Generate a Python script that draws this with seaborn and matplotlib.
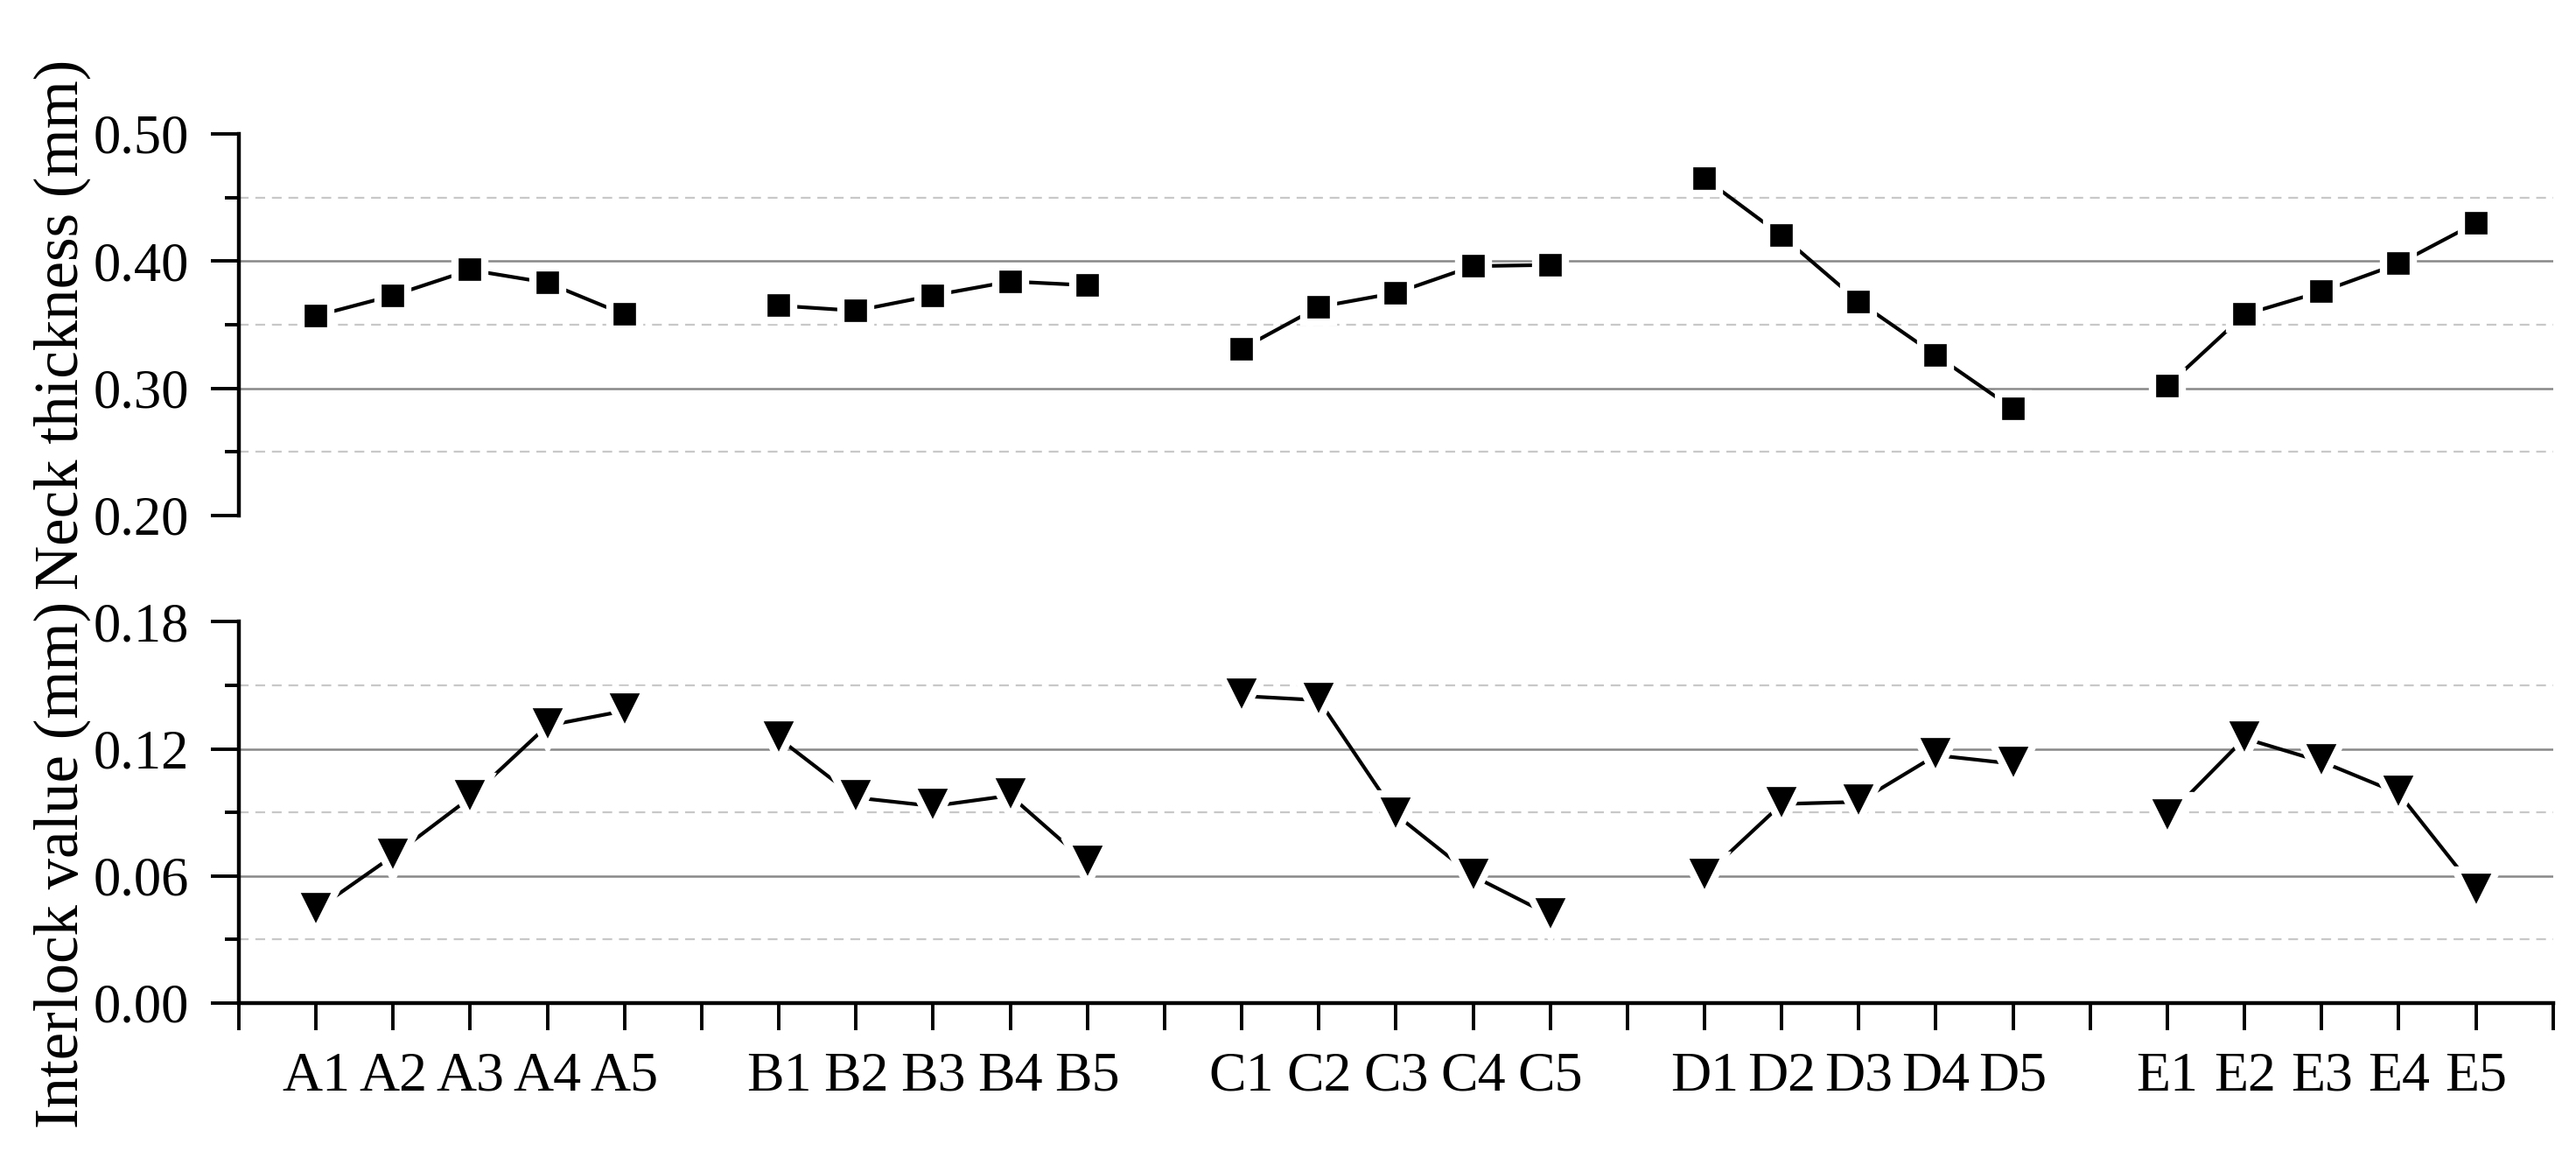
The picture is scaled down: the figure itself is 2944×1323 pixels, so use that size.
import numpy as np
import pandas as pd
import matplotlib
matplotlib.use('Agg')
import matplotlib.pyplot as plt
from matplotlib.ticker import FormatStrFormatter
import seaborn as sns

# donnees
groups = ['A', 'B', 'C', 'D', 'E']
samples = ['A1', 'A2', 'A3', 'A4', 'A5',
           'B1', 'B2', 'B3', 'B4', 'B5',
           'C1', 'C2', 'C3', 'C4', 'C5',
           'D1', 'D2', 'D3', 'D4', 'D5',
           'E1', 'E2', 'E3', 'E4', 'E5']
neck_thickness = [0.357, 0.373, 0.393, 0.383, 0.358,
                  0.365, 0.361, 0.373, 0.384, 0.381,
                  0.331, 0.364, 0.375, 0.396, 0.397,
                  0.465, 0.420, 0.368, 0.326, 0.284,
                  0.302, 0.358, 0.376, 0.398, 0.430]
interlock = [0.044, 0.0695, 0.097, 0.131, 0.138,
             0.125, 0.097, 0.093, 0.098, 0.066,
             0.145, 0.143, 0.089, 0.060, 0.0415,
             0.060, 0.094, 0.095, 0.117, 0.113,
             0.088, 0.125, 0.114, 0.099, 0.053]

neck_major = [0.20, 0.30, 0.40, 0.50]
neck_minor = [0.25, 0.35, 0.45]
inter_major = [0.00, 0.06, 0.12, 0.18]
inter_minor = [0.03, 0.09, 0.15]

# positions : 5 points par groupe + un espace entre les groupes
df = pd.DataFrame({'sample': samples, 'neck': neck_thickness, 'inter': interlock})
df['group'] = df['sample'].str[0]
df['pos'] = [groups.index(s[0]) * 6 + int(s[1]) for s in samples]

tick_pos = list(range(0, 31))
tick_lab = ['' for _ in tick_pos]
for p, s in zip(df['pos'], df['sample']):
    tick_lab[p] = s

sns.set_theme(style='ticks')
plt.rcParams['font.family'] = ['Liberation Serif', 'DejaVu Serif']
for k in ['text.color', 'axes.labelcolor', 'xtick.color', 'ytick.color', 'axes.edgecolor']:
    plt.rcParams[k] = 'black'

fig = plt.figure(figsize=(14.72, 6.615), dpi=200)
ax1 = fig.add_axes([0.0927, 0.5548, 0.8984, 0.3296])
ax2 = fig.add_axes([0.0927, 0.1338, 0.8984, 0.3292])

line_kw = dict(color='black', linewidth=1.5, markeredgecolor='white',
               markeredgewidth=3, estimator=None, legend=False)

sns.lineplot(data=df, x='pos', y='neck', units='group', marker='s',
             markersize=12.5, ax=ax1, zorder=3, **line_kw)
sns.lineplot(data=df, x='pos', y='inter', units='group', marker='v',
             markersize=17.5, ax=ax2, zorder=3, **line_kw)

for ax, major, minor, label, ly in [(ax1, neck_major, neck_minor, 'Neck thickness (mm)', 0.5),
                                     (ax2, inter_major, inter_minor, 'Interlock value (mm)', 0.363)]:
    ax.set_xlim(0, 30)
    ax.set_ylim(major[0], major[-1])
    ax.set_yticks(major)
    ax.set_yticks(minor, minor=True)
    ax.yaxis.set_major_formatter(FormatStrFormatter('%.2f'))
    for v in major[1:-1]:
        ax.axhline(v, color='#888888', lw=0.9, zorder=1)
    for v in minor:
        ax.axhline(v, color='#c8c8c8', lw=0.8, ls=(0, (5, 3.5)), zorder=1)
    for side in ['top', 'right', 'bottom']:
        ax.spines[side].set_visible(False)
    ax.spines['left'].set_linewidth(1.6)
    ax.tick_params(axis='y', which='major', direction='out', length=11.5,
                   width=1.4, labelsize=22.5, pad=9)
    ax.tick_params(axis='y', which='minor', direction='out', length=5.8,
                   width=1.4)
    ax.set_ylabel(label, fontsize=25.5)
    ax.yaxis.set_label_coords(-0.064, ly)
    ax.set_xlabel('')

ax1.tick_params(axis='x', bottom=False, labelbottom=False)
ax1.set_xticks([])

ax2.spines['bottom'].set_visible(True)
ax2.spines['bottom'].set_linewidth(1.6)
ax2.set_xticks(tick_pos)
ax2.set_xticklabels(tick_lab)
ax2.tick_params(axis='x', direction='out', length=11, width=1.4,
                labelsize=23, pad=9)

plt.savefig('out.png', dpi=200)
